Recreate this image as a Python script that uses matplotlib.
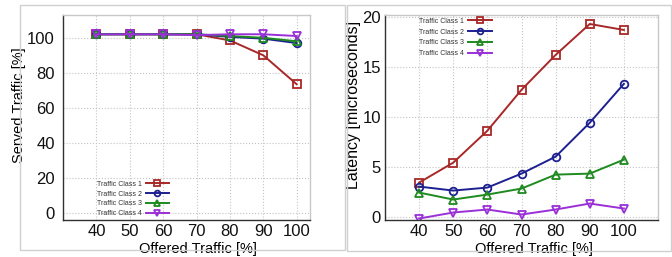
import matplotlib
matplotlib.use("Agg")
import matplotlib.pyplot as plt
from matplotlib.patches import Rectangle

plt.rcParams['font.family'] = ['Liberation Sans', 'DejaVu Sans']

offered = [40, 50, 60, 70, 80, 90, 100]
class_names = ['Traffic Class 1', 'Traffic Class 2', 'Traffic Class 3', 'Traffic Class 4']

served = {
    'Traffic Class 1': [102, 102, 102, 102, 98.5, 90, 73.5],
    'Traffic Class 2': [102, 102, 102, 102, 100.5, 99.5, 97],
    'Traffic Class 3': [102, 102, 102, 102, 101, 100, 98],
    'Traffic Class 4': [102, 102, 102, 101.5, 102, 102, 101],
}
latency = {
    'Traffic Class 1': [3.4, 5.4, 8.6, 12.7, 16.2, 19.3, 18.7],
    'Traffic Class 2': [3.0, 2.6, 2.9, 4.3, 6.0, 9.4, 13.3],
    'Traffic Class 3': [2.4, 1.7, 2.2, 2.8, 4.2, 4.3, 5.7],
    'Traffic Class 4': [-0.2, 0.4, 0.7, 0.2, 0.7, 1.3, 0.8],
}

colors = ['#a82828', '#1c2090', '#1f8a1f', '#9a2fd8']
markers = ['s', 'o', '^', 'v']

fig = plt.figure(figsize=(6.72, 2.57), dpi=100)

# light frames around each panel (scanned look)
fig.patches.append(Rectangle((20/672, 1-250/257), 325/672, 245/257, transform=fig.transFigure,
                             fill=False, edgecolor='#d0d0d0', linewidth=1))
fig.patches.append(Rectangle((347/672, 1-251/257), 324/672, 246/257, transform=fig.transFigure,
                             fill=False, edgecolor='#d0d0d0', linewidth=1))

ax1 = fig.add_axes([63/672, 1-220/257, 247/672, 205/257])
ax2 = fig.add_axes([385/672, 1-220/257, 273/672, 205/257])


def style(ax, ypad):
    ax.grid(True, linestyle=':', color='#c4c4c4', linewidth=0.8)
    ax.set_axisbelow(True)
    for s in ['left', 'bottom']:
        ax.spines[s].set_color('#303030')
        ax.spines[s].set_linewidth(1.0)
    for s in ['top', 'right']:
        ax.spines[s].set_color('#c8c8c8')
        ax.spines[s].set_linewidth(1.0)
    ax.tick_params(axis='both', length=0, labelsize=12, colors='#111111')
    ax.tick_params(axis='x', pad=3)
    ax.tick_params(axis='y', pad=ypad)
    ax.set_xticks(offered)


for i, name in enumerate(class_names):
    ax1.plot(offered, served[name], color=colors[i], marker=markers[i], markersize=5.5,
             markerfacecolor='none', markeredgewidth=1.3, linewidth=1.4, label=name)
    ax2.plot(offered, latency[name], color=colors[i], marker=markers[i], markersize=5.5,
             markerfacecolor='none', markeredgewidth=1.3, linewidth=1.4, label=name)

leg_kw = dict(frameon=False, fontsize=5, markerfirst=False, handlelength=3.4,
              borderpad=0.2, handletextpad=0.6, markerscale=0.75)

style(ax1, 6)
ax1.set_xlim(30, 104)
ax1.set_ylim(-4, 113)
ax1.set_yticks([0, 20, 40, 60, 80, 100])
ax1.set_xlabel('Offered Traffic [%]', fontsize=10.5)
ax1.set_ylabel('Served Traffic [%]', fontsize=10.5)
ax1.xaxis.set_label_coords(0.545, -0.105)
ax1.yaxis.set_label_coords(-0.15, 0.56)
leg1 = ax1.legend(loc='lower right', bbox_to_anchor=(0.45, -0.01), labelspacing=0.4, **leg_kw)

style(ax2, 3)
ax2.set_xlim(30, 110)
ax2.set_ylim(-0.35, 20.2)
ax2.set_yticks([0, 5, 10, 15, 20])
ax2.set_xlabel('Offered Traffic [%]', fontsize=10.5)
ax2.set_ylabel('Latency [microseconds]', fontsize=11.5)
ax2.xaxis.set_label_coords(0.544, -0.105)
ax2.yaxis.set_label_coords(-0.088, 0.56)
leg2 = ax2.legend(loc='upper right', bbox_to_anchor=(0.41, 1.01), labelspacing=0.55, **leg_kw)

for leg in (leg1, leg2):
    for t in leg.get_texts():
        t.set_color('#333333')

fig.savefig('out.png', dpi=100)
